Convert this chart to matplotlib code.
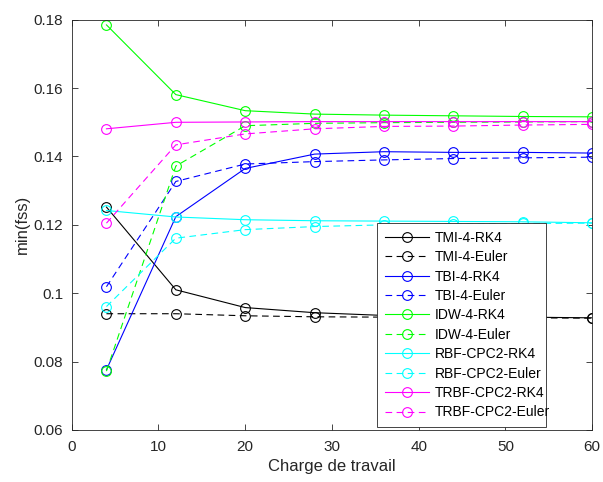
import matplotlib
matplotlib.use('Agg')
import matplotlib.pyplot as plt
from matplotlib.ticker import FuncFormatter

charge = [4, 12, 20, 28, 36, 44, 52, 60]

tmi_rk4 = [0.1252, 0.1010, 0.0958, 0.0943, 0.0935, 0.0932, 0.0930, 0.0928]
tmi_euler = [0.0940, 0.0940, 0.0934, 0.0931, 0.0930, 0.0929, 0.0928, 0.0927]
tbi_rk4 = [0.0776, 0.1224, 0.1365, 0.1407, 0.1414, 0.1412, 0.1412, 0.1410]
tbi_euler = [0.1019, 0.1327, 0.1378, 0.1385, 0.1390, 0.1394, 0.1396, 0.1398]
idw_rk4 = [0.1785, 0.1581, 0.1534, 0.1524, 0.1521, 0.1519, 0.1517, 0.1516]
idw_euler = [0.0772, 0.1372, 0.1490, 0.1497, 0.1499, 0.1500, 0.1501, 0.1502]
rbf_rk4 = [0.1242, 0.1223, 0.1215, 0.1212, 0.1211, 0.1210, 0.1209, 0.1206]
rbf_euler = [0.0961, 0.1161, 0.1186, 0.1195, 0.1200, 0.1202, 0.1204, 0.1205]
trbf_rk4 = [0.1481, 0.1500, 0.1501, 0.1502, 0.1502, 0.1502, 0.1502, 0.1502]
trbf_euler = [0.1205, 0.1434, 0.1466, 0.1481, 0.1488, 0.1489, 0.1492, 0.1494]

# MATLAB-like pure colours
series = [
    ("TMI-4-RK4", tmi_rk4, '#000000', '-'),
    ("TMI-4-Euler", tmi_euler, '#000000', '--'),
    ("TBI-4-RK4", tbi_rk4, '#0000ff', '-'),
    ("TBI-4-Euler", tbi_euler, '#0000ff', '--'),
    ("IDW-4-RK4", idw_rk4, '#00ff00', '-'),
    ("IDW-4-Euler", idw_euler, '#00ff00', '--'),
    ("RBF-CPC2-RK4", rbf_rk4, '#00ffff', '-'),
    ("RBF-CPC2-Euler", rbf_euler, '#00ffff', '--'),
    ("TRBF-CPC2-RK4", trbf_rk4, '#ff00ff', '-'),
    ("TRBF-CPC2-Euler", trbf_euler, '#ff00ff', '--'),
]

plt.rcParams['font.family'] = ['Liberation Sans', 'DejaVu Sans']

fig = plt.figure(figsize=(6.03, 4.82), dpi=100)
ax = fig.add_axes([0.119, 0.108, 0.863, 0.851])

for name, vals, col, ls in series:
    line, = ax.plot(charge, vals, color=col, linestyle=ls, linewidth=0.8,
                    marker='o', markersize=7, markerfacecolor='none',
                    markeredgewidth=0.8, label=name)
    if ls == '--':
        line.set_dashes([6, 4])

ax.set_xlim(0, 60)
ax.set_ylim(0.06, 0.18)
ax.set_xticks([0, 10, 20, 30, 40, 50, 60])
ax.set_yticks([0.06, 0.08, 0.1, 0.12, 0.14, 0.16, 0.18])
ax.yaxis.set_major_formatter(FuncFormatter(lambda v, p: '%g' % round(v, 2)))
ax.tick_params(direction='in', top=True, right=True, labelsize=11,
               colors='#262626', length=4, width=0.6)
ax.tick_params(axis='x', pad=7)
ax.tick_params(axis='y', pad=6)
for sp in ax.spines.values():
    sp.set_linewidth(0.6)
    sp.set_color('#262626')

ax.set_xlabel("Charge de travail", fontsize=12, color='#262626', labelpad=4)
ax.set_ylabel("min(fss)", fontsize=12, color='#262626', labelpad=3)

leg = ax.legend(loc='lower left', bbox_to_anchor=(0.587, 0.007, 0.325, 0.5),
                mode='expand', fontsize=10, fancybox=False, framealpha=1,
                edgecolor='#262626', handlelength=3.2, borderpad=0.55,
                labelspacing=0.39, handletextpad=0.4, borderaxespad=0)
leg.get_frame().set_linewidth(0.6)

fig.savefig("out.png", dpi=100)
